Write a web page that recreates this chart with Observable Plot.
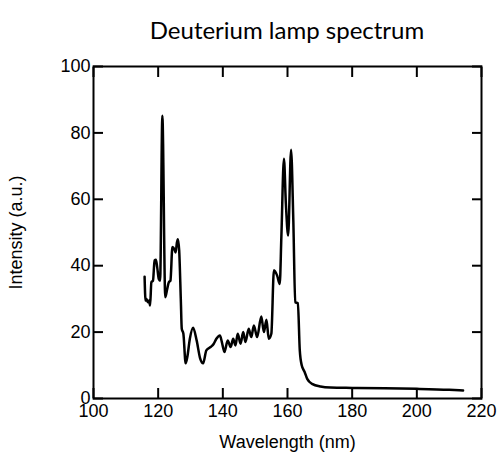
<!DOCTYPE html>
<html>
<head>
<meta charset="utf-8">
<script src="https://cdn.jsdelivr.net/npm/d3@7"></script>
<script src="https://cdn.jsdelivr.net/npm/@observablehq/plot@0.6"></script>
<style>
  html, body { margin: 0; padding: 0; background: #fff; }
  #wrap { width: 500px; height: 467px; position: relative; }
  #title {
    position: absolute; left: 93px; width: 388px; top: 15px; line-height: 30px;
    text-align: center; font-family: Lato, "Open Sans", sans-serif; font-size: 24px; color: #000;
  }
  #chart { position: absolute; left: 0; top: 50px; }
  #chart svg, #chart svg text { font-family: "Liberation Sans", Arial, sans-serif !important; }
</style>
</head>
<body>
<div id="wrap">
  <div id="title">Deuterium lamp spectrum</div>
  <div id="chart"></div>
</div>
<script>
// Deuterium lamp emission spectrum: wavelength (nm) and intensity (a.u.)
const wavelength = [
  115.8, 116.1, 116.4, 116.8, 117.2, 117.5, 117.9, 118.4, 118.9, 119.3,
  119.7, 120.2, 120.6, 121.3, 122.2, 122.8, 123.3, 123.8, 124.4, 125.0,
  125.4, 125.8, 126.1, 126.5, 127.0, 127.3, 127.8, 128.5, 129.0, 129.8,
  130.8, 131.9, 133.0, 133.9, 134.9, 136.2, 137.2, 138.0, 139.1, 139.7,
  140.5, 141.5, 142.4, 143.2, 143.9, 144.6, 145.5, 146.3, 147.0, 148.0,
  148.8, 149.6, 150.6, 151.9, 152.7, 153.5, 154.2, 155.0, 155.8, 156.8,
  157.6, 158.1, 158.9, 159.5, 160.2, 161.1, 161.8, 162.4, 163.2, 163.8,
  164.4, 165.3, 166.1, 167.6, 170.2, 173.3, 180.0, 190.0, 200.0, 210.0,
  214.3
];
const intensity = [
  36.7, 29.5, 30.0, 29.0, 29.5, 28.0, 35.0, 35.5, 41.6, 41.8,
  39.5, 36.0, 35.5, 85.2, 30.5, 33.0, 35.0, 35.5, 45.6, 45.0,
  44.0, 47.0, 48.0, 44.6, 30.0, 21.0, 19.5, 10.6, 12.4, 18.0,
  21.3, 17.5, 12.0, 10.6, 14.5, 15.5, 16.5, 18.0, 19.0, 17.0,
  14.0, 17.5, 15.5, 18.0, 16.0, 19.5, 16.5, 20.0, 17.0, 21.0,
  18.5, 22.0, 18.5, 24.7, 20.0, 23.7, 18.0, 19.5, 38.6, 37.0,
  34.5, 48.6, 72.2, 58.6, 49.1, 74.9, 53.6, 29.0, 28.7, 14.5,
  10.0, 8.0, 5.9, 4.4, 3.6, 3.3, 3.2, 3.1, 2.9, 2.6,
  2.4
];
const xTicks = [100, 120, 140, 160, 180, 200, 220];
const yTicks = [0, 20, 40, 60, 80, 100];

const spectrum = wavelength.map((w, i) => ({wavelength: w, intensity: intensity[i]}));

// unlabelled inward-pointing ticks for one side of the frame
const inwardTicks = (anchor) => {
  const vertical = anchor === "left" || anchor === "right";
  const axis = vertical ? Plot.axisY : Plot.axisX;
  return axis({anchor, ticks: vertical ? yTicks : xTicks, tickSize: -10, strokeWidth: 2,
    tickFormat: () => "", label: null});
};

const chart = Plot.plot({
  width: 500,
  height: 417,
  marginTop: 16,
  marginRight: 19,
  marginBottom: 69,
  marginLeft: 93,
  style: {fontSize: "18px", color: "#000", background: "#fff"},
  x: {domain: [100, 220]},
  y: {domain: [0, 100]},
  marks: [
    Plot.axisX({ticks: xTicks, tickSize: 0, tickPadding: 6, fontSize: 18,
      label: "Wavelength (nm)", labelAnchor: "center", labelArrow: "none", labelOffset: 49}),
    Plot.axisY({ticks: yTicks, tickSize: 0, tickPadding: 3, fontSize: 18,
      label: "Intensity (a.u.)", labelAnchor: "center", labelArrow: "none", labelOffset: 84}),
    inwardTicks("bottom"),
    inwardTicks("top"),
    inwardTicks("left"),
    inwardTicks("right"),
    Plot.frame({stroke: "#000", strokeWidth: 2}),
    Plot.line(spectrum, {x: "wavelength", y: "intensity", stroke: "#000", strokeWidth: 2.5, curve: "monotone-x"})
  ]
});
document.getElementById("chart").appendChild(chart);
</script>
</body>
</html>
